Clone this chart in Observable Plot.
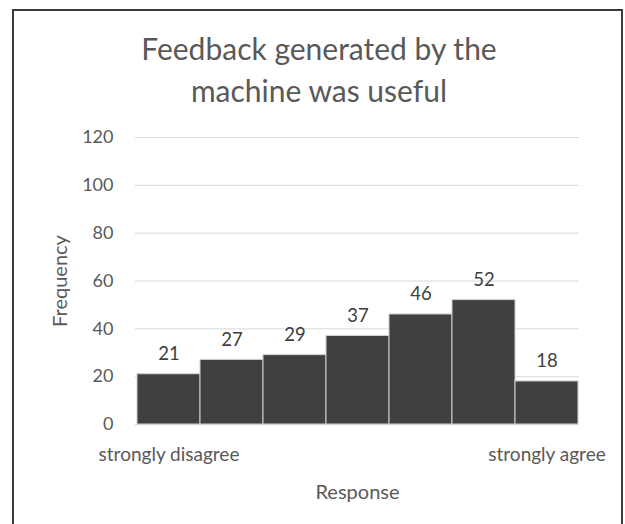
<!DOCTYPE html>
<html><head><meta charset="utf-8">
<script src="https://cdn.jsdelivr.net/npm/d3@7"></script>
<script src="https://cdn.jsdelivr.net/npm/@observablehq/plot@0.6"></script>
<style>
body{margin:0;background:#fff;}
#wrap{position:relative;width:625px;height:524px;overflow:hidden;background:#fff;}
#frame{position:absolute;left:12px;top:9px;width:611px;height:600px;border:2px solid #3a3a3a;box-sizing:border-box;pointer-events:none;}
#title{position:absolute;left:0;width:638px;top:27px;text-align:center;font-family:Lato,sans-serif;font-size:30px;color:#595959;line-height:42px;}
#chart{position:absolute;left:0;top:0;}
#chart svg{font-family:Lato,sans-serif;}
g[aria-label="y-axis tick label"] text{font-size:18px;}
g[aria-label="x-axis tick label"] text{font-size:19px;}
g[aria-label="y-axis label"] text, g[aria-label="x-axis label"] text{font-size:20px;}
</style>
</head><body>
<div id="wrap">
  <div id="chart"></div>
  <div id="title">Feedback generated by the<br>machine was useful</div>
  <div id="frame"></div>
</div>
<script>
const categories = ["1", "2", "3", "4", "5", "6", "7"];
const counts = [21, 27, 29, 37, 46, 52, 18];
const categoryLabels = ["strongly disagree", "", "", "", "", "", "strongly agree"];
const yTicks = [0, 20, 40, 60, 80, 100, 120];

const data = categories.map((c, i) => ({cat: c, n: counts[i]}));
const textColor = "#595959";

const chart = Plot.plot({
  width: 625,
  height: 524,
  marginTop: 137,
  marginBottom: 100,
  marginLeft: 135,
  marginRight: 46,
  style: {fontFamily: "Lato, sans-serif", color: textColor, background: "transparent"},
  x: {type: "band", domain: categories, padding: 0},
  y: {domain: [0, 120]},
  marks: [
    Plot.gridY(yTicks, {stroke: "#d9d9d9", strokeOpacity: 1, strokeWidth: 1}),
    Plot.barY(data, {x: "cat", y: "n", fill: "#404040", stroke: "#d0d0d0", strokeWidth: 1}),
    Plot.text(data, {x: "cat", y: "n", text: d => String(d.n), lineAnchor: "bottom", dy: -14, fill: "#404040", fontSize: 18.5}),
    Plot.axisY(yTicks, {tickSize: 0, tickPadding: 22, label: "Frequency", labelAnchor: "center", labelOffset: 83, labelArrow: "none", fill: textColor}),
    Plot.axisX({tickSize: 0, tickPadding: 22.5, tickFormat: (d, i) => categoryLabels[categories.indexOf(d)], label: "Response", labelAnchor: "center", labelOffset: 74, labelArrow: "none", fill: textColor})
  ]
});
document.getElementById("chart").appendChild(chart);
</script>
</body></html>
